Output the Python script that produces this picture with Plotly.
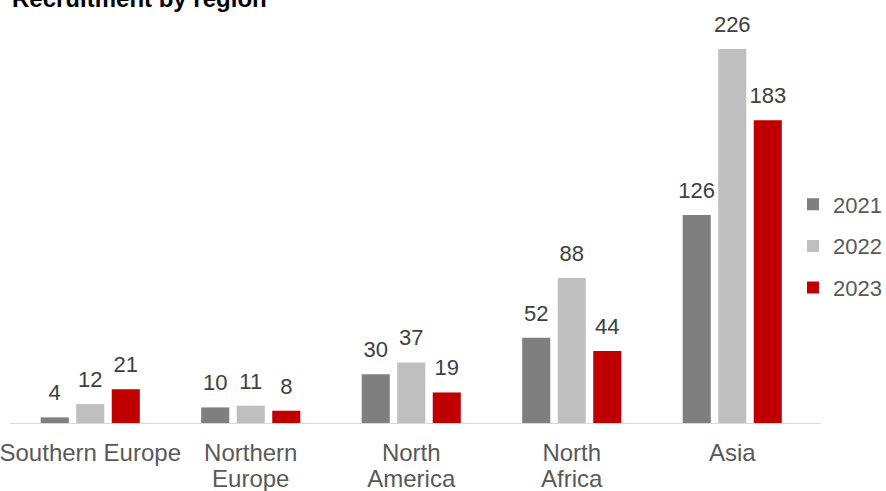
import plotly.graph_objects as go

# Recruitment counts per region and year
categories = ["Southern Europe", "Northern<br>Europe", "North<br>America", "North<br>Africa", "Asia"]
years = ["2021", "2022", "2023"]
v2021 = [4, 10, 30, 52, 126]
v2022 = [12, 11, 37, 88, 226]
v2023 = [21, 8, 19, 44, 183]
colors = ["#7f7f7f", "#bfbfbf", "#c00000"]

FONT = "Liberation Sans, Arial, sans-serif"
BARGAP = 0.336
CAT_PX = 160.5           # pixel width of one category slot
PLOT_W = 886 - 10        # plot area width (legend sits inside its right end)

fig = go.Figure()
series = [v2021, v2022, v2023]
for i, (year, vals, col) in enumerate(zip(years, series, colors)):
    fig.add_trace(go.Bar(
        x=categories, y=vals, name=year, marker=dict(color=col, line=dict(width=0)),
        offsetgroup=str(i), legendgroup=year, hoverinfo="skip",
    ))
# value labels, grouped the same way as the bars so they sit over each bar
for i, (year, vals) in enumerate(zip(years, series)):
    fig.add_trace(go.Scatter(
        x=categories, y=vals, text=[str(v) for v in vals], mode="markers+text",
        textposition="top center", marker=dict(size=17, opacity=0),
        textfont=dict(family=FONT, size=22, color="#404040"),
        offsetgroup=str(i), showlegend=False, hoverinfo="skip", cliponaxis=False,
    ))

# tick text: larger glyphs inside a smaller base size keeps the wrapped lines tight
ticktext = ["<br>".join(f"<span style='font-size:24px'>{part}</span>" for part in c.split("<br>"))
            for c in categories]

x_max = -0.5 + PLOT_W / CAT_PX
fig.update_layout(
    width=886, height=491,
    margin=dict(l=10, r=0, t=10, b=67, autoexpand=False),
    paper_bgcolor="white", plot_bgcolor="white",
    barmode="group", bargap=BARGAP, bargroupgap=0.21,
    scattermode="group", scattergap=BARGAP,
    showlegend=True,
    legend=dict(
        xref="container", yref="container",
        x=793 / 886, xanchor="left", y=1 - 246 / 491, yanchor="middle",
        font=dict(family=FONT, size=22, color="#595959"),
        traceorder="grouped", tracegroupgap=10, bgcolor="rgba(0,0,0,0)",
    ),
    font=dict(family=FONT),
    annotations=[dict(
        text="<b>Recruitment by region</b>", xref="paper", yref="paper",
        x=0, y=1, xanchor="left", yanchor="middle", yshift=12, showarrow=False,
        font=dict(family=FONT, size=24, color="#000000"),
    )],
    shapes=[dict(
        type="line", xref="x", yref="y", x0=-0.5, x1=len(categories) - 0.45, y0=0, y1=0,
        line=dict(color="#d9d9d9", width=2), layer="above",
    )],
)
fig.update_xaxes(
    type="category", range=[-0.5, x_max], automargin=False,
    showline=False, ticks="", showgrid=False, zeroline=False,
    tickvals=categories, ticktext=ticktext,
    tickfont=dict(family=FONT, size=20, color="#595959"), ticklabelstandoff=16,
)
fig.update_yaxes(range=[0, 249.5], visible=False, showgrid=False, automargin=False)

fig.write_html("out.html")
